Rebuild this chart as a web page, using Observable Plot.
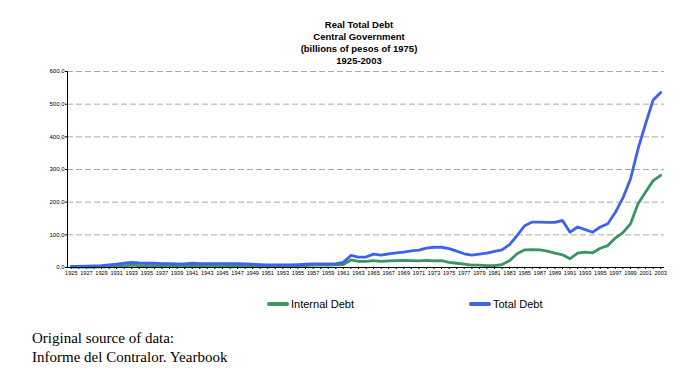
<!DOCTYPE html>
<html>
<head>
<meta charset="utf-8">
<script src="https://cdn.jsdelivr.net/npm/d3@7"></script>
<script src="https://cdn.jsdelivr.net/npm/@observablehq/plot@0.6"></script>
<style>
  html, body { margin: 0; padding: 0; background: #fff; }
  #wrap { position: relative; width: 696px; height: 376px; overflow: hidden; background: #fff; }
  #title { position: absolute; left: 259px; width: 200px; top: 19px; text-align: center;
    font: bold 9.5px/12px "Liberation Sans", Arial, sans-serif; color: #000; }
  #chart { position: absolute; left: 0; top: 0; }
  .leg { position: absolute; top: 298px; font: 11px "Liberation Sans", Arial, sans-serif; color: #000; display: flex; align-items: center; }
  .leg span.sw { display: inline-block; width: 22px; height: 4px; border-radius: 2px; margin-right: 2px; }
  #foot { position: absolute; left: 32px; top: 329px; font: 15px/19px "Liberation Serif", "Times New Roman", serif; color: #000; }
</style>
</head>
<body>
<div id="wrap">
  <div id="chart"></div>
  <div id="title">Real Total Debt<br>Central Government<br>(billions of pesos of 1975)<br>1925-2003</div>
  <div class="leg" style="left:267px"><span class="sw" style="background:#3a9463"></span>Internal Debt</div>
  <div class="leg" style="left:469px"><span class="sw" style="background:#3d63ea"></span>Total Debt</div>
  <div id="foot">Original source of data:<br>Informe del Contralor. Yearbook</div>
</div>
<script>
const years = d3.range(1925, 2004);
const totalDebt = [
  3,3,4,5,6,8,10,13,16,14,
  13,13,12,12,11,11,13,12,12,12,
  12,12,12,11,10,9,8,8,8,8,
  9,10,11,11,11,12,16,37,32,32,
  41,38,42,45,47,51,53,59,62,62,
  58,50,42,38,41,44,49,54,70,98,
  128,139,139,138,138,144,108,124,116,108,
  124,134,169,213,271,363,440,513,536
];
const internalDebt = [
  1,1,1,1,2,2,3,5,7,6,
  6,6,5,5,5,5,6,6,6,6,
  6,6,6,5,5,5,4,4,4,4,
  5,6,7,7,7,8,9,23,19,19,
  21,19,20,21,22,21,20,22,20,21,
  16,13,10,7,7,6,6,9,21,42,
  54,55,54,50,44,39,27,44,47,45,
  59,67,90,107,134,195,231,266,282
];
const yTicks = [0,100,200,300,400,500,600];

const rows = [];
years.forEach((y, i) => {
  rows.push({year: y, value: internalDebt[i], series: "Internal Debt"});
  rows.push({year: y, value: totalDebt[i], series: "Total Debt"});
});

const fmt = d => d3.format(".1f")(d).replace(".", ",");

const chart = Plot.plot({
  width: 696,
  height: 290,
  marginTop: 71,
  marginBottom: 23,
  marginLeft: 67,
  marginRight: 32,
  style: {fontFamily: "'Liberation Sans', Arial, sans-serif", fontSize: "6px", background: "transparent", color: "#000"},
  x: {domain: [1924.5, 2003.5]},
  y: {domain: [0, 600]},
  color: {domain: ["Internal Debt", "Total Debt"], range: ["#3a9463", "#3d63ea"]},
  marks: [
    Plot.ruleY(yTicks.filter(d => d > 0), {stroke: "#aaa", strokeDasharray: "6,3", strokeWidth: 1}),
    Plot.axisY({ticks: yTicks, tickFormat: fmt, tickSize: 2, tickPadding: 1, label: null, fontSize: 6}),
    Plot.axisX({ticks: years, tickFormat: d => (d % 2 === 1 ? String(d) : ""), tickSize: 2, tickPadding: 2, label: null, fontSize: 5.6}),
    Plot.line(rows, {x: "year", y: "value", z: "series", stroke: "series", strokeWidth: 2.8, curve: "linear"}),
    Plot.ruleX([1924.5], {stroke: "#000", strokeWidth: 1}),
    Plot.ruleY([0], {stroke: "#000", strokeWidth: 1})
  ]
});
document.getElementById("chart").appendChild(chart);
</script>
</body>
</html>
